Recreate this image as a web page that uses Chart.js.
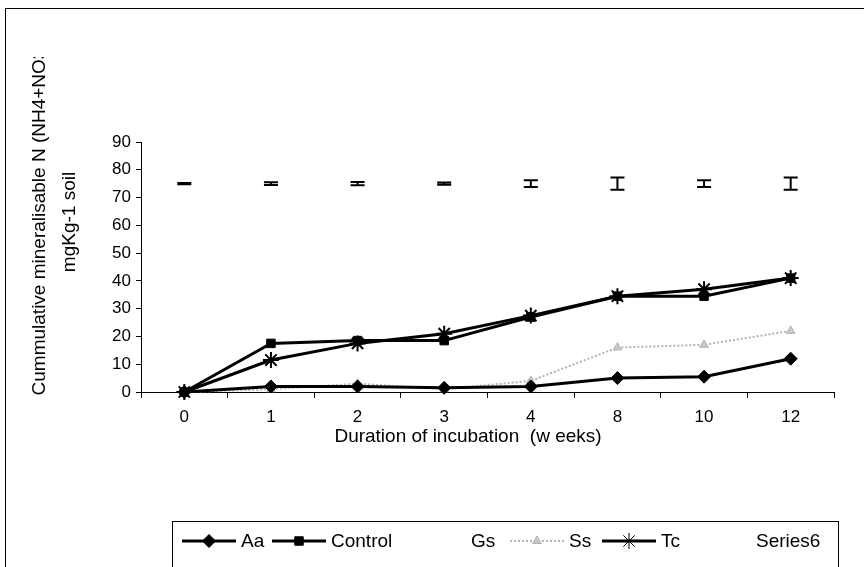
<!DOCTYPE html>
<html>
<head>
<meta charset="utf-8">
<script src="https://cdn.jsdelivr.net/npm/chart.js@4.4.1/dist/chart.umd.min.js"></script>
<style>
html, body { margin: 0; padding: 0; background: #fff; }
canvas { display: block; }
</style>
</head>
<body>
<canvas id="chart" width="864" height="567"></canvas>
<script>
var weeks = ['0', '1', '2', '3', '4', '8', '10', '12'];
var aaValues = [0, 2, 2, 1.5, 2, 5, 5.5, 12];
var controlValues = [0, 17.5, 18.5, 18.5, 27, 34.5, 34.5, 41];
var gsValues = [null, null, null, null, null, null, null, null];
var ssValues = [0, 1, 3, 1, 4, 16, 17, 22];
var tcValues = [0, 11.5, 17.5, 21, 27.5, 34.5, 37, 41];
var series6Values = [75, 75, 75, 75, 75, 75, 75, 75];
var series6Errors = [0.2, 0.5, 0.6, 0.4, 1.2, 2.2, 1.2, 2.2];
var yMin = 0, yMax = 90, yStep = 10;
var yTitleLines = ['Cummulative mineralisable N (NH4+NO3', 'mgKg-1 soil'];
var xTitle = 'Duration of incubation  (w eeks)';

var FONT = '"Liberation Sans", Arial, sans-serif';
var legendSlots = [182, 272, 412, 510, 602, 697];

function drawMarker(ctx, ds, x, y) {
    if (!ds.pointRadius) return;
    ctx.save();
    ctx.fillStyle = ds.pointBackgroundColor || ds.backgroundColor;
    ctx.strokeStyle = ds.pointBorderColor || ds.borderColor;
    ctx.setLineDash([]);
    Chart.helpers.drawPoint(ctx, {
        pointStyle: ds.pointStyle,
        radius: ds.pointRadius,
        rotation: 0,
        borderWidth: ds.pointBorderWidth || 1
    }, x, y);
    ctx.restore();
}

var errorBarPlugin = {
    id: 'errorBars',
    afterDatasetsDraw(chart) {
        var ctx = chart.ctx;
        var yScale = chart.scales.y;
        var meta = chart.getDatasetMeta(5);
        ctx.save();
        ctx.strokeStyle = '#000';
        ctx.lineWidth = 2;
        meta.data.forEach(function(pt, i) {
            var v = series6Values[i], e = series6Errors[i];
            var top = yScale.getPixelForValue(v + e);
            var bot = yScale.getPixelForValue(v - e);
            ctx.beginPath();
            ctx.moveTo(pt.x, top); ctx.lineTo(pt.x, bot);
            ctx.moveTo(pt.x - 7, top); ctx.lineTo(pt.x + 7, top);
            ctx.moveTo(pt.x - 7, bot); ctx.lineTo(pt.x + 7, bot);
            ctx.stroke();
        });
        ctx.restore();
    }
};

var decorPlugin = {
    id: 'decor',
    afterDraw(chart) {
        var ctx = chart.ctx;
        ctx.save();
        // outer frame
        ctx.strokeStyle = '#000';
        ctx.lineWidth = 1;
        ctx.strokeRect(5.5, 8.5, 900, 600);

        // axis titles
        ctx.fillStyle = '#000';
        ctx.font = '19px ' + FONT;
        ctx.textAlign = 'center';
        ctx.textBaseline = 'middle';
        ctx.fillText(xTitle, 468, 437);

        ctx.save();
        ctx.beginPath();
        ctx.rect(0, 57, 140, 400);
        ctx.clip();
        ctx.translate(40, 222);
        ctx.rotate(-Math.PI / 2);
        ctx.fillText(yTitleLines[0], 0, 0);
        ctx.restore();

        ctx.save();
        ctx.translate(70, 222);
        ctx.rotate(-Math.PI / 2);
        ctx.fillText(yTitleLines[1], 0, 0);
        ctx.restore();

        // legend
        ctx.strokeRect(172.5, 521.5, 666, 80);
        var ly = 541;
        ctx.textAlign = 'left';
        chart.data.datasets.forEach(function(ds, i) {
            var x0 = legendSlots[i];
            if (ds.showLine !== false) {
                ctx.save();
                ctx.strokeStyle = ds.borderColor;
                ctx.lineWidth = ds.borderWidth;
                ctx.setLineDash(ds.borderDash || []);
                ctx.beginPath();
                ctx.moveTo(x0, ly); ctx.lineTo(x0 + 54, ly);
                ctx.stroke();
                ctx.restore();
                drawMarker(ctx, ds, x0 + 27, ly);
            }
            ctx.fillStyle = '#000';
            ctx.fillText(ds.label, x0 + 59, ly + 1);
        });
        ctx.restore();
    }
};

function lineSet(label, data, style) {
    return Object.assign({
        label: label,
        data: data,
        borderColor: '#000',
        backgroundColor: '#000',
        borderWidth: 3,
        pointRadius: 5,
        pointBorderWidth: 1,
        tension: 0,
        clip: false
    }, style);
}

new Chart(document.getElementById('chart'), {
    type: 'line',
    data: {
        labels: weeks,
        datasets: [
            lineSet('Aa', aaValues, { pointStyle: 'rectRot', pointRadius: 6.5 }),
            lineSet('Control', controlValues, { pointStyle: 'rect', pointRadius: 6 }),
            lineSet('Gs', gsValues, { borderColor: '#fff', backgroundColor: '#fff', pointRadius: 0 }),
            lineSet('Ss', ssValues, {
                borderColor: '#b4b4b4', backgroundColor: '#c8c8c8', borderWidth: 2,
                borderDash: [2, 2], pointStyle: 'triangle', pointRadius: 5
            }),
            lineSet('Tc', tcValues, { pointStyle: 'star', pointRadius: 8, pointBorderWidth: 2 }),
            lineSet('Series6', series6Values, { showLine: false, pointRadius: 0 })
        ]
    },
    options: {
        responsive: false,
        animation: false,
        layout: { padding: { left: 81, right: 30, top: 142, bottom: 135 } },
        plugins: {
            legend: { display: false },
            tooltip: { enabled: false }
        },
        scales: {
            x: {
                type: 'category',
                offset: true,
                grid: { offset: true, drawOnChartArea: false, tickLength: 6, color: '#000' },
                border: { color: '#000', width: 1 },
                ticks: { color: '#000', padding: 9, font: { family: FONT, size: 17 } },
                afterFit: function(scale) { scale.height = 40; }
            },
            y: {
                min: yMin,
                max: yMax,
                grid: { drawOnChartArea: false, tickLength: 5, color: '#000' },
                border: { color: '#000', width: 1 },
                ticks: { stepSize: yStep, color: '#000', padding: 5, font: { family: FONT, size: 17 } },
                afterFit: function(scale) { scale.width = 60; }
            }
        }
    },
    plugins: [errorBarPlugin, decorPlugin]
});
</script>
</body>
</html>
